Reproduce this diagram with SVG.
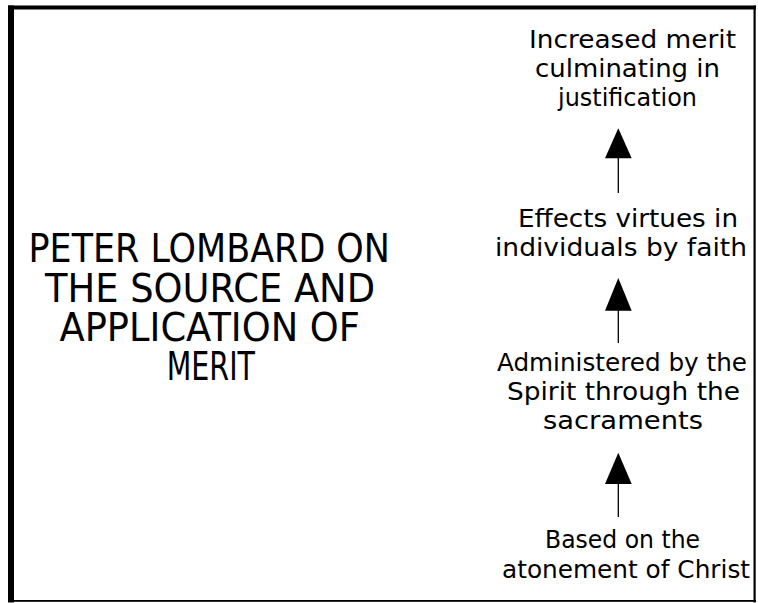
<svg xmlns="http://www.w3.org/2000/svg" width="758" height="603" viewBox="0 0 758 603">
<style>
.title{font-family:"DejaVu Sans","Verdana",sans-serif;font-size:39px;fill:#000}
.lbl{font-family:"DejaVu Sans","Verdana",sans-serif;font-size:24px;fill:#000}
.conn line{stroke:#000;stroke-width:1.3}
.conn path{fill:#000}
</style>
<rect x="0" y="0" width="758" height="603" fill="#fff"/>
<g id="frame" fill="#000">
<rect x="8" y="5.5" width="748" height="4"/>
<rect x="8" y="5.5" width="6" height="597"/>
<rect x="753.5" y="5.5" width="2.2" height="597"/>
<rect x="8" y="600" width="748" height="1.8"/>
</g>
<g id="title">
<text class="title" x="28.5" y="261.7" textLength="361.5" lengthAdjust="spacingAndGlyphs">PETER LOMBARD ON</text>
<text class="title" x="45" y="301.7" textLength="330" lengthAdjust="spacingAndGlyphs">THE SOURCE AND</text>
<text class="title" x="59.5" y="340.7" textLength="300.5" lengthAdjust="spacingAndGlyphs">APPLICATION OF</text>
<text class="title" x="166.7" y="380" textLength="88.3" lengthAdjust="spacingAndGlyphs">MERIT</text>
</g>
<g id="node-justification">
<text class="lbl" x="529" y="48.3" textLength="207" lengthAdjust="spacingAndGlyphs">Increased merit</text>
<text class="lbl" x="535" y="77.3" textLength="185" lengthAdjust="spacingAndGlyphs">culminating in</text>
<text class="lbl" x="558" y="106" textLength="139" lengthAdjust="spacingAndGlyphs">justification</text>
</g>
<g id="node-virtues">
<text class="lbl" x="518" y="227.3" textLength="220" lengthAdjust="spacingAndGlyphs">Effects virtues in</text>
<text class="lbl" x="495" y="255.5" textLength="252" lengthAdjust="spacingAndGlyphs">individuals by faith</text>
</g>
<g id="node-spirit">
<text class="lbl" x="497" y="370.7" textLength="250" lengthAdjust="spacingAndGlyphs">Administered by the</text>
<text class="lbl" x="507" y="400" textLength="233" lengthAdjust="spacingAndGlyphs">Spirit through the</text>
<text class="lbl" x="543" y="429.3" textLength="160" lengthAdjust="spacingAndGlyphs">sacraments</text>
</g>
<g id="node-atonement">
<text class="lbl" x="545" y="548.3" textLength="155" lengthAdjust="spacingAndGlyphs">Based on the</text>
<text class="lbl" x="502" y="578.3" textLength="248" lengthAdjust="spacingAndGlyphs">atonement of Christ</text>
</g>
<g id="connectors" class="conn">
<line x1="618.3" y1="158" x2="618.3" y2="193"/>
<path d="M618.3,128.3 L631.7,158.3 L605,158.3 Z"/>
<line x1="618.3" y1="310" x2="618.3" y2="343"/>
<path d="M618.3,278 L631.7,310.7 L605,310.7 Z"/>
<line x1="618.3" y1="484" x2="618.3" y2="517"/>
<path d="M618.3,452.7 L631.7,484 L605,484 Z"/>
</g>
</svg>
